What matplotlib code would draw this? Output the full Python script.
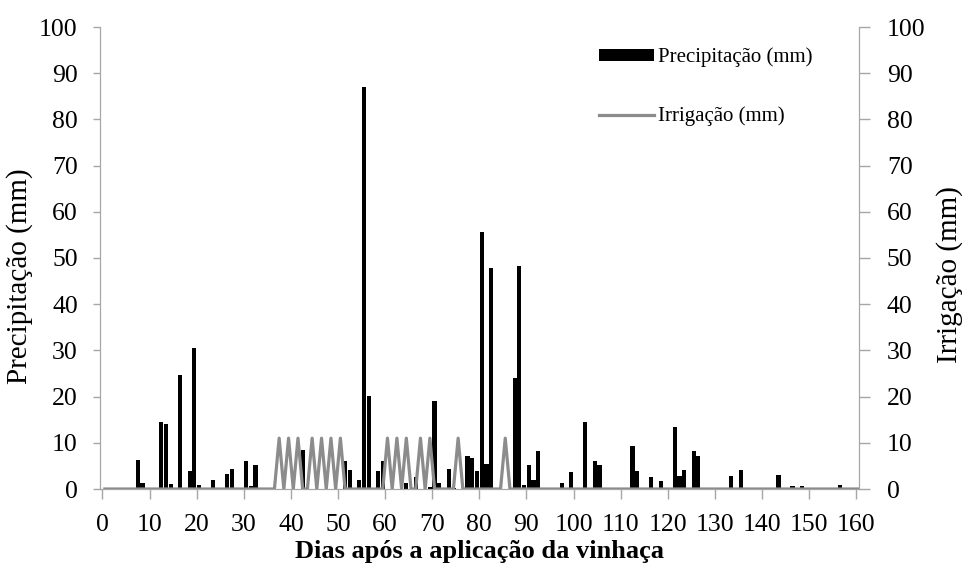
import numpy as np
import matplotlib
matplotlib.use("Agg")
import matplotlib.pyplot as plt

plt.rcParams['font.family'] = ['Liberation Serif', 'DejaVu Serif']

# precipitation (mm) per day after vinasse application
precip_days = [7, 8, 11, 12, 13, 14, 15, 16, 18, 19,
               20, 22, 23, 26, 27, 30, 31, 32, 35, 42,
               51, 52, 53, 54, 55, 56, 57, 58, 59, 64,
               66, 69, 70, 71, 72, 73, 74, 77, 78, 79,
               80, 81, 82, 87, 88, 89, 90, 91, 92, 93,
               94, 97, 99, 102, 103, 104, 105, 106, 109, 112,
               113, 116, 118, 121, 122, 123, 125, 126, 133, 135,
               136, 140, 143, 144, 146, 147, 148, 156, 158]
precip_mm = [6.3, 1.2, 0.3, 14.6, 14.1, 1.1, 0.2, 24.7, 4.0, 30.5,
             0.8, 0.2, 2.0, 3.2, 4.4, 6.1, 0.7, 5.2, 0.3, 8.5,
             6.1, 4.2, 0.3, 2.0, 87.0, 20.2, 0.1, 3.8, 6.0, 1.2,
             2.6, 0.4, 19.0, 1.2, 0.3, 4.4, 0.3, 7.2, 6.8, 4.0,
             55.6, 5.5, 47.8, 24.0, 48.2, 0.8, 5.3, 2.0, 8.2, 0.3,
             0.3, 1.2, 3.6, 14.4, 0.3, 6.1, 5.3, 0.3, 0.2, 9.2,
             4.0, 2.5, 1.7, 13.4, 2.9, 4.2, 8.2, 7.2, 2.8, 4.2,
             0.3, 0.2, 3.0, 0.3, 0.6, 0.3, 0.6, 0.8, 0.3]

# irrigation events (mm)
irrig_days = [37, 39, 41, 44, 46, 48, 50, 60, 62, 64, 67, 69, 75, 85]
irrig_mm = 11
n_days = 161

x_ticks = list(range(0, 161, 10))
y_ticks = list(range(0, 101, 10))

irrig = np.zeros(n_days)
irrig[irrig_days] = irrig_mm
all_days = np.arange(n_days)

gray = '#A6A6A6'
fig = plt.figure(figsize=(9.63, 5.72), dpi=100)
ax = fig.add_axes([100 / 963, 1 - 489 / 572, 759 / 963, 462 / 572])
ax2 = ax.twinx()

bars = ax.bar(np.array(precip_days) + 0.5, precip_mm, width=0.9, color='black',
              label='Precipitação (mm)', zorder=2)
line, = ax2.plot(all_days + 0.5, irrig, color='#8C8C8C', lw=2.3,
                 label='Irrigação (mm)', zorder=3)

for a in (ax, ax2):
    a.set_xlim(-0.53, 160.6)
    a.set_ylim(0, 100)
    a.set_yticks(y_ticks)
    for s in a.spines.values():
        s.set_color(gray)
    a.spines['top'].set_visible(False)
    a.tick_params(colors=gray, labelcolor='black', labelsize=18.5, width=1)

ax.set_xticks(x_ticks)
ax.tick_params(axis='x', length=7, pad=11)
ax.tick_params(axis='y', length=5, pad=11)
ax2.tick_params(axis='y', length=8, pad=12)

ax.set_ylabel('Precipitação (mm)', fontsize=21)
ax.yaxis.set_label_coords(-0.088, 0.46)
ax2.set_ylabel('Irrigação (mm)', fontsize=21)
ax2.yaxis.set_label_coords(1.102, 0.465)
ax.set_xlabel('Dias após a aplicação da vinhaça', fontsize=19,
              fontweight='bold', labelpad=3)

ax2.legend([bars, line], ['Precipitação (mm)', 'Irrigação (mm)'],
           loc='upper left', bbox_to_anchor=(589 / 963, 1 - 37 / 572),
           bbox_transform=fig.transFigure, frameon=False, fontsize=15,
           handlelength=2.6, handleheight=0.55, handletextpad=0.2,
           labelspacing=1.9, borderpad=0)

fig.savefig('out.png', dpi=100)
